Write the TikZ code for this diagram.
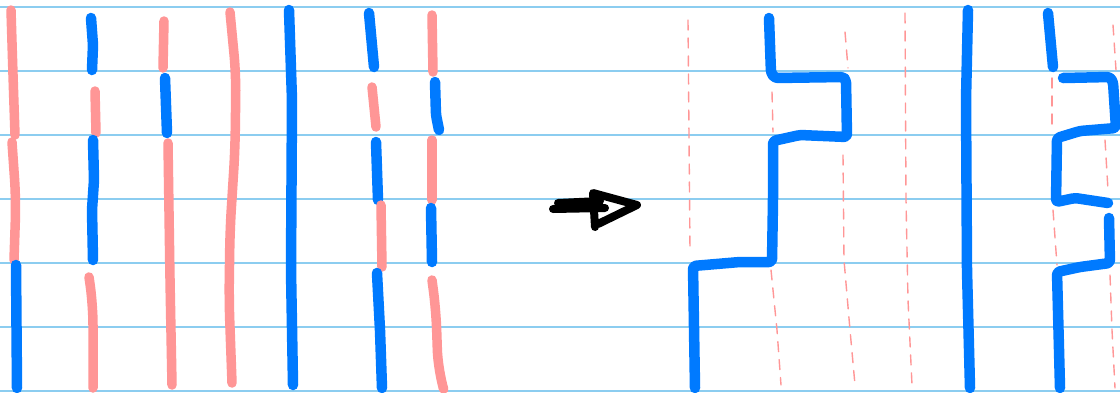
\documentclass[tikz,border=0pt]{standalone}
\usepackage{tikz}
\usetikzlibrary{arrows.meta}
\definecolor{notebl}{RGB}{140,205,240}
\definecolor{penpink}{RGB}{255,150,150}
\definecolor{penblue}{RGB}{0,122,255}

\begin{document}
\begin{tikzpicture}[x=1pt,y=-1pt,line cap=round,line join=round,
        rule/.style={notebl,line width=1.6pt},
        pk/.style={penpink,line width=9.5pt,rounded corners=20pt},
        bl/.style={penblue,line width=10.5pt,rounded corners=3pt},
        pkd/.style={penpink,line width=1.4pt,dash pattern=on 10pt off 8pt},
        pen/.style={black,line width=8pt}]
    \useasboundingbox (0,0) rectangle (1120,392);
    \fill[white] (0,0) rectangle (1120,392);
    %罫線
    \foreach \y in {7,71,...,391}
        \draw[rule] (0,\y)--(1120,\y);
    %左側
    \draw[pk] (11,10)--(13,75)--(15,135);
    \draw[pk] (12,142)--(16,200)--(14,260);
    \draw[bl] (16,265)--(17,388);
    \draw[bl] (91,18)--(93,45)--(92,70);
    \draw[pk] (95,91)--(96,133);
    \draw[bl] (93,140)--(94,180)--(92,210)--(93,260);
    \draw[pk] (89,277)--(93,305)--(93,388);
    \draw[pk] (164,21)--(163,68);
    \draw[bl] (165,78)--(167,133);
    \draw[pk] (168,143)--(170,280)--(172,385);
    \draw[pk] (230,12)--(236,75)--(235,150)--(230,230)--(229,300)--(232,383);
    \draw[bl] (289,10)--(292,100)--(291,270)--(293,385);
    \draw[bl] (369,13)--(374,67);
    \draw[pk] (372,87)--(376,127);
    \draw[bl] (376,142)--(378,200);
    \draw[pk] (381,205)--(382,267);
    \draw[bl] (377,273)--(380,330)--(382,388);
    \draw[pk] (432,15)--(433,72);
    \draw[bl] (435,82)--(436,115)--(439,130);
    \draw[pk] (432,140)--(432,200);
    \draw[bl] (431,208)--(432,262);
    \draw[pk] (432,280)--(436,310)--(438,370)--(443,387);
    %矢印
    \draw[pen] (553,209)--(605,208);
    \draw[pen] (558,203)--(600,201);
    \draw[pen] (595,227)--(593,193)--(637,205)--(598,224);
    %右側の点線
    \draw[pkd] (688,20)--(690,250);
    \draw[pkd] (772,92)--(773,132);
    \draw[pkd] (771,270)--(777,330)--(781,385);
    \draw[pkd] (845,32)--(848,68);
    \draw[pkd] (843,155)--(844,260)--(850,330)--(855,385);
    \draw[pkd] (905,13)--(906,200)--(908,300)--(912,385);
    \draw[pkd] (1052,78)--(1052,128);
    \draw[pkd] (1113,25)--(1116,70);
    \draw[pkd] (1105,140)--(1108,190);
    \draw[pkd] (1053,210)--(1057,265);
    \draw[pkd] (1110,275)--(1112,330)--(1115,388);
    %右側
    \draw[bl] (769,18)--(771,73)--(775,78)--(843,77)--(846,80)--(847,137)
        --(800,135)--(773,141)--(773,200)--(772,262)--(740,262)--(693,266)--(695,388);
    \draw[bl] (968,10)--(966,100)--(967,270)--(970,388);
    \draw[bl] (1048,13)--(1053,67);
    \draw[bl] (1063,78)--(1110,77)--(1113,82)--(1116,128)--(1080,131)--(1057,138)
        --(1056,202)--(1075,198)--(1108,203);
    \draw[bl] (1109,218)--(1110,263)--(1080,267)--(1057,272)--(1060,388);
\end{tikzpicture}
\end{document}
